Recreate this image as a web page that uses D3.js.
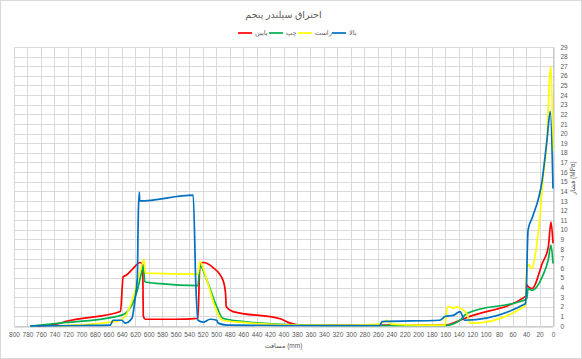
<!DOCTYPE html>
<html>
<head>
<meta charset="utf-8">
<script src="https://cdn.jsdelivr.net/npm/d3@7"></script>
<style>
    body { margin: 0; background: #fff; }
    svg { font-family: "Liberation Sans", "DejaVu Sans", sans-serif; }
</style>
</head>
<body>
<svg id="mainSVG" width="582" height="359"></svg>
<script>
/* ----------------------------- DATA ----------------------------- */

let chartTitle = "احتراق سیلندر پنجم"
let xTitle = "مسافت (mm)"
let yTitle = "فشار (MPa)"

let xTicks = d3.range(0, 801, 20)
let yTicks = d3.range(0, 30, 1)

// پایین
let bottomDist = [765, 731, 724, 642, 638, 633, 623, 613, 609, 608, 605, 560, 527, 524, 519, 505, 490, 486, 485, 475, 405, 390, 375, 300, 200, 160, 138, 123, 40, 39, 37, 31, 16, 7, 3, 0]
let bottomP = [0, 0.3, 0.45, 1.5, 5.1, 5.3, 6.0, 6.6, 6.4, 1.0, 0.7, 0.7, 0.8, 6.5, 6.6, 6.1, 4.8, 3.4, 2.0, 1.5, 0.75, 0.3, 0.1, 0.1, 0.1, 0.1, 0.6, 1.0, 3.1, 4.3, 4.1, 3.9, 6.5, 8.2, 10.8, 8.6]

// چپ
let leftDist = [776, 731, 647, 635, 617, 610, 608, 606, 583, 527, 524, 514, 499, 490, 465, 375, 300, 200, 160, 138, 128, 39, 37, 31, 16, 7, 3, 0]
let leftP = [0, 0.3, 1.0, 1.3, 3.7, 5.8, 6.3, 4.6, 4.4, 4.2, 6.3, 4.8, 2.0, 0.8, 0.5, 0.1, 0.05, 0.05, 0.05, 0.6, 1.3, 2.8, 3.9, 3.7, 5.1, 6.9, 8.4, 6.5]

// راست
let rightDist = [736, 657, 642, 635, 623, 613, 607, 605, 527, 524, 514, 499, 490, 465, 375, 300, 257, 247, 240, 200, 160, 157, 153, 148, 143, 138, 128, 123, 119, 41, 39, 37, 31, 27, 19, 15, 9, 5, 3, 0]
let rightP = [0, 0.4, 0.6, 1.0, 3.0, 5.6, 6.9, 5.5, 5.4, 6.7, 4.8, 1.5, 0.6, 0.4, 0.1, 0.1, 0.2, 0.6, 0.2, 0.1, 0.1, 2.0, 2.0, 1.85, 2.0, 1.85, 1.3, 0.3, 0.3, 2.1, 5.5, 6.4, 6.0, 7.1, 11.7, 15.2, 19.3, 25.9, 27.0, 18.2]

// بالا
let topDist = [776, 700, 657, 653, 640, 635, 625, 620, 617, 615.5, 614, 613.5, 534, 530, 527, 519, 509, 499, 497, 484, 400, 300, 257, 254, 168, 160, 148, 138, 131, 41, 40, 37, 30, 16, 9, 4, 0]
let topP = [0, 0.05, 0.1, 0.6, 0.6, 0.3, 0.8, 3.0, 5.0, 11.6, 13.9, 13.0, 13.6, 4.0, 0.6, 0.4, 0.7, 0.6, 0.3, 0.1, 0.05, 0.05, 0.05, 0.45, 0.6, 1.0, 1.1, 1.5, 0.6, 2.3, 3.0, 10.0, 11.4, 15.2, 19.3, 22.3, 14.3]

let seriesNames = ["پایین", "چپ", "راست", "بالا"]
let seriesColors = ["#FF0000", "#00B050", "#FFFF00", "#0070C0"]
let seriesDist = [bottomDist, leftDist, rightDist, topDist]
let seriesP = [bottomP, leftP, rightP, topP]

/* ----------------------------- CHART ----------------------------- */

let svg = d3.select("#mainSVG")
let width = +svg.attr('width')
let height = +svg.attr('height')

let plot = { left: 14, right: 553, top: 47, bottom: 326 }
let textColor = "#595959"

svg.append('rect')
    .attr('x', 0.5).attr('y', 0.5)
    .attr('width', width - 1).attr('height', height - 1)
    .attr('fill', '#fff')
    .attr('stroke', '#D9D9D9')

let x = d3.scaleLinear().domain([800, 0]).range([plot.left, plot.right])
let y = d3.scaleLinear().domain([0, 29]).range([plot.bottom, plot.top])

// v-- griglia
let grid = svg.append('g').attr('stroke', '#D9D9D9').attr('stroke-width', 1)
grid.selectAll('line.v')
    .data(xTicks)
    .enter()
        .append('line')
        .attr('x1', function (d) { return Math.round(x(d)) + 0.5 })
        .attr('x2', function (d) { return Math.round(x(d)) + 0.5 })
        .attr('y1', plot.top).attr('y2', plot.bottom)
grid.selectAll('line.h')
    .data(yTicks)
    .enter()
        .append('line')
        .attr('y1', function (d) { return Math.round(y(d)) + 0.5 })
        .attr('y2', function (d) { return Math.round(y(d)) + 0.5 })
        .attr('x1', plot.left).attr('x2', plot.right)

// v-- assi
let xAxis = d3.axisBottom(x).tickValues(xTicks).tickSize(0).tickPadding(6)
let gx = svg.append('g')
    .attr('transform', 'translate(0,' + (Math.round(y(0)) + 0.5) + ')')
    .call(xAxis)
gx.select('.domain').attr('stroke', '#BFBFBF')
gx.selectAll('text').attr('fill', textColor).attr('font-size', 6.5)

let yAxis = d3.axisRight(y).tickValues(yTicks).tickSize(0).tickPadding(7)
let gy = svg.append('g')
    .attr('transform', 'translate(' + (Math.round(x(0)) + 0.5) + ',0)')
    .call(yAxis)
gy.select('.domain').attr('stroke', '#BFBFBF')
gy.selectAll('text').attr('fill', textColor).attr('font-size', 6.5)

// v-- linee (distanza decrescente => x in pixel crescente)
let line = d3.line()
    .curve(d3.curveMonotoneX)
    .x(function (d) { return x(d[0]) })
    .y(function (d) { return y(d[1]) })

svg.append('g')
    .selectAll('path')
    .data(seriesDist.map(function (dist, i) {
        return dist.map(function (v, j) { return [v, seriesP[i][j]] })
    }))
    .enter()
        .append('path')
        .attr('d', line)
        .attr('fill', 'none')
        .attr('stroke', function (d, i) { return seriesColors[i] })
        .attr('stroke-width', 1.7)
        .attr('stroke-linejoin', 'round')

/* ----------------------------- TEXTS ----------------------------- */

svg.append('text')
    .attr('x', (plot.left + plot.right) / 2).attr('y', 18)
    .attr('text-anchor', 'middle')
    .attr('font-size', 9.5)
    .attr('fill', textColor)
    .text(chartTitle)

svg.append('text')
    .attr('x', (plot.left + plot.right) / 2).attr('y', 348)
    .attr('text-anchor', 'middle')
    .attr('font-size', 6.5)
    .attr('fill', textColor)
    .text(xTitle)

svg.append('text')
    .attr('transform', 'translate(575,178) rotate(-90)')
    .attr('text-anchor', 'middle')
    .attr('font-size', 6.5)
    .attr('fill', textColor)
    .text(yTitle)

// v-- legenda
let legendX = [238, 269, 298, 332]
let legend = svg.append('g')
    .selectAll('g')
    .data(seriesNames)
    .enter()
        .append('g')
        .attr('transform', function (d, i) { return 'translate(' + legendX[i] + ',33)' })
legend.append('line')
    .attr('x1', 0).attr('x2', 14)
    .attr('stroke', function (d, i) { return seriesColors[i] })
    .attr('stroke-width', 1.7)
legend.append('text')
    .attr('x', 17).attr('y', 2.3)
    .attr('font-size', 6.5)
    .attr('fill', textColor)
    .text(function (d) { return d })
</script>
</body>
</html>
